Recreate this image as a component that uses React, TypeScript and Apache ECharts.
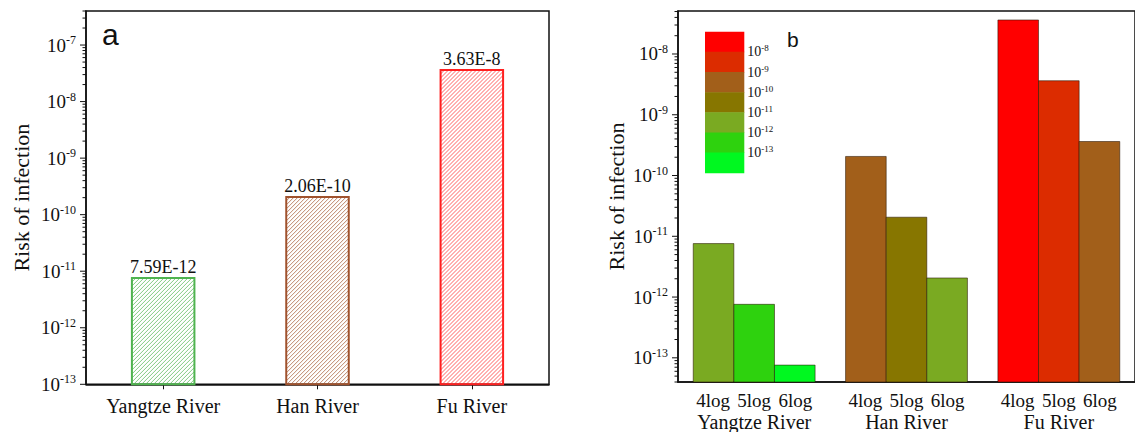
import React, { useEffect, useRef } from 'react';
import * as echarts from 'echarts';

// ---------- data ----------
const rivers = ['Yangtze River', 'Han River', 'Fu River'];
const riskOfInfection = [7.59e-12, 2.06e-10, 3.63e-8];
const treatments = ['4log', '5log', '6log'];
const risk4log = [7.59e-12, 2.06e-10, 3.63e-8];
const risk5log = [7.59e-13, 2.06e-11, 3.63e-9];
const risk6log = [7.59e-14, 2.06e-12, 3.63e-10];
const panelAColors = ['#4fb34f', '#a0522d', '#ff2020'];
const legendExponents = [-8, -9, -10, -11, -12, -13];
const legendColors = ['#ff0000', '#dc2c00', '#a25f1a', '#877600', '#7aaa22', '#2ed20e', '#00f820'];
const yRangeA = [1e-13, 4e-7];
const yRangeB = [4e-14, 5.1e-8];

// ---------- style constants ----------
const SERIF = 'Liberation Serif';
const SANS = 'Liberation Sans';
const INK = '#111';
const GRID_A = { left: 86, top: 11, width: 463, height: 373.3 };
const GRID_B = { left: 678, top: 11, width: 463, height: 374 };
const BAR_FRAC_A = 0.405;
const GROUP_FRAC_B = 0.8;
const SUB_W = (GRID_B.width / rivers.length) * GROUP_FRAC_B / treatments.length;

const powLabel = (value: number) => {
  const l = Math.log10(value);
  const e = Math.round(l);
  return Math.abs(l - e) < 0.02 ? `{b|10}{s|${e}}` : '';
};

const axisRich = {
  b: { fontFamily: SERIF, fontSize: 19, color: INK, lineHeight: 22 },
  s: { fontFamily: SERIF, fontSize: 12, color: INK, lineHeight: 10, verticalAlign: 'top' },
};

const makeYAxis = (gridIndex: number, range: number[], nameGap: number) => ({
  gridIndex,
  type: 'log',
  logBase: 10,
  min: range[0],
  max: range[1],
  name: 'Risk of infection',
  nameLocation: 'middle',
  nameGap,
  nameRotate: 90,
  nameTextStyle: { fontFamily: SERIF, fontSize: 22, color: INK },
  axisLine: { show: true, onZero: false, lineStyle: { color: INK, width: 1.5 } },
  axisTick: { show: false },
  minorTick: { show: false },
  splitLine: { show: false },
  minorSplitLine: { show: false },
  axisLabel: { formatter: powLabel, margin: 10, rich: axisRich },
});

const tickRenderer = (range: number[]) => (params: any, api: any) => {
  const ax = params.coordSys.x;
  const children: any[] = [];
  const eLo = Math.floor(Math.log10(range[0]));
  const eHi = Math.ceil(Math.log10(range[1]));
  for (let e = eLo; e <= eHi; e++) {
    for (let k = 1; k <= 9; k++) {
      const v = k * Math.pow(10, e);
      if (v < range[0] * 0.999 || v > range[1] * 1.001) continue;
      const y = api.coord([0, v])[1];
      const len = k === 1 ? 6 : 3.5;
      children.push({
        type: 'line',
        shape: { x1: ax - len, y1: y, x2: ax, y2: y },
        style: { stroke: INK, lineWidth: 1 },
      });
    }
  }
  return { type: 'group', children };
};

const renderHatchBar = (params: any, api: any) => {
  const cat = api.value(0);
  const v = api.value(1);
  const band = params.coordSys.width / rivers.length;
  const w = band * BAR_FRAC_A;
  const top = api.coord([cat, v]);
  const base = api.coord([cat, yRangeA[0]]);
  const x0 = top[0] - w / 2;
  const x1 = top[0] + w / 2;
  const y0 = top[1];
  const y1 = base[1];
  const color = panelAColors[params.dataIndex];
  const children: any[] = [];
  const step = 4;
  for (let c = x0 + y0 + step; c < x1 + y1; c += step) {
    const xa = Math.max(x0, c - y1);
    const xb = Math.min(x1, c - y0);
    if (xb <= xa) continue;
    children.push({
      type: 'line',
      shape: { x1: xa, y1: c - xa, x2: xb, y2: c - xb },
      style: { stroke: color, lineWidth: 1, opacity: 0.7 },
    });
  }
  children.push({
    type: 'rect',
    shape: { x: x0, y: y0, width: w, height: y1 - y0 },
    style: { fill: 'none', stroke: color, lineWidth: 2 },
  });
  children.push({
    type: 'text',
    x: top[0],
    y: y0 - 2,
    style: {
      text: v.toExponential(2).toUpperCase(),
      fontFamily: SERIF,
      fontSize: 18,
      fill: INK,
      textAlign: 'center',
      textVerticalAlign: 'bottom',
    },
  });
  return { type: 'group', children };
};

const renderGroupedBar = (params: any, api: any) => {
  const r = api.value(0);
  const v = api.value(1);
  const t = api.value(2);
  const band = params.coordSys.width / rivers.length;
  const groupW = band * GROUP_FRAC_B;
  const barW = groupW / treatments.length;
  const top = api.coord([r, v]);
  const base = api.coord([r, yRangeB[0]]);
  const x = top[0] - groupW / 2 + t * barW;
  return {
    type: 'rect',
    shape: { x, y: top[1], width: barW, height: base[1] - top[1] },
    style: { fill: api.visual('color'), stroke: 'rgba(40,20,0,0.55)', lineWidth: 1 },
  };
};

const groupedData: number[][] = [];
[risk4log, risk5log, risk6log].forEach((arr, t) => {
  arr.forEach((v, r) => groupedData.push([r, v, t]));
});

const visualPieces = legendColors.map((color, i) => {
  if (i === 0) return { gte: Math.pow(10, legendExponents[0]), color };
  if (i === legendColors.length - 1) return { lt: Math.pow(10, legendExponents[i - 1]), color };
  return { gte: Math.pow(10, legendExponents[i]), lt: Math.pow(10, legendExponents[i - 1]), color };
});

const LEG = { x: 705, y: 31.7, w: 39.3, h: 20.15 };
const legendGraphics: any[] = [];
legendColors.forEach((fill, i) => {
  legendGraphics.push({
    type: 'rect',
    shape: { x: LEG.x, y: LEG.y + i * LEG.h, width: LEG.w, height: LEG.h + 0.5 },
    style: { fill },
  });
});
legendExponents.forEach((e, i) => {
  legendGraphics.push({
    type: 'text',
    x: LEG.x + LEG.w + 3,
    y: LEG.y + (i + 1) * LEG.h,
    style: {
      text: `{b|10}{s|${e}}`,
      textAlign: 'left',
      textVerticalAlign: 'middle',
      rich: {
        b: { fontFamily: SERIF, fontSize: 14, fill: INK, lineHeight: 16 },
        s: { fontFamily: SERIF, fontSize: 9, fill: INK, lineHeight: 7, verticalAlign: 'top' },
      },
    },
  });
});

const option: any = {
  animation: false,
  backgroundColor: '#ffffff',
  textStyle: { fontFamily: SERIF },
  grid: [
    { ...GRID_A, show: true, borderColor: INK, borderWidth: 1.5, backgroundColor: 'transparent' },
    { ...GRID_B, show: true, borderColor: INK, borderWidth: 1.5, backgroundColor: 'transparent' },
  ],
  xAxis: [
    {
      gridIndex: 0,
      type: 'category',
      data: rivers,
      axisLine: { onZero: false, lineStyle: { color: INK, width: 1.5 } },
      axisTick: { show: true, alignWithLabel: true, length: 5, lineStyle: { color: INK, width: 1 } },
      axisLabel: { fontFamily: SERIF, fontSize: 20, color: INK, margin: 12 },
      splitLine: { show: false },
    },
    {
      gridIndex: 1,
      type: 'category',
      data: rivers,
      axisLine: { onZero: false, lineStyle: { color: INK, width: 1.5 } },
      axisTick: { show: false },
      axisLabel: {
        margin: 7,
        formatter: (value: string) =>
          treatments.map((t) => `{t|${t}}`).join('') + `\n{g|${value}}`,
        rich: {
          t: { fontFamily: SERIF, fontSize: 19, color: INK, width: SUB_W, align: 'center', lineHeight: 22 },
          g: { fontFamily: SERIF, fontSize: 20, color: INK, lineHeight: 22 },
        },
      },
      splitLine: { show: false },
    },
  ],
  yAxis: [makeYAxis(0, yRangeA, 54), makeYAxis(1, yRangeB, 51)],
  visualMap: {
    type: 'piecewise',
    show: false,
    seriesIndex: 2,
    dimension: 1,
    pieces: visualPieces,
  },
  series: [
    {
      type: 'custom',
      xAxisIndex: 0,
      yAxisIndex: 0,
      encode: { x: 0, y: 1 },
      data: riskOfInfection.map((v, i) => [i, v]),
      renderItem: renderHatchBar,
      silent: true,
    },
    {
      type: 'custom',
      xAxisIndex: 0,
      yAxisIndex: 0,
      encode: { x: 0, y: 1 },
      data: [[0, yRangeA[1]]],
      renderItem: tickRenderer(yRangeA),
      silent: true,
    },
    {
      type: 'custom',
      xAxisIndex: 1,
      yAxisIndex: 1,
      encode: { x: 0, y: 1 },
      data: groupedData,
      renderItem: renderGroupedBar,
      silent: true,
    },
    {
      type: 'custom',
      xAxisIndex: 1,
      yAxisIndex: 1,
      encode: { x: 0, y: 1 },
      data: [[0, yRangeB[1]]],
      renderItem: tickRenderer(yRangeB),
      silent: true,
    },
  ],
  graphic: [
    {
      type: 'text',
      x: 102,
      y: 34.6,
      style: { text: 'a', fontFamily: SANS, fontSize: 30, fill: INK, textAlign: 'left', textVerticalAlign: 'middle' },
    },
    {
      type: 'text',
      x: 787,
      y: 39.4,
      style: { text: 'b', fontFamily: SANS, fontSize: 21, fill: INK, textAlign: 'left', textVerticalAlign: 'middle' },
    },
    ...legendGraphics,
  ],
};

export default function App() {
  const ref = useRef<HTMLDivElement>(null);
  useEffect(() => {
    const chart = echarts.init(ref.current as HTMLDivElement, null, { renderer: 'svg' });
    chart.setOption(option);
    return () => chart.dispose();
  }, []);
  return (
    <div
      ref={ref}
      style={{ position: 'fixed', left: 0, top: 0, width: 1135, height: 432, background: '#fff' }}
    />
  );
}
